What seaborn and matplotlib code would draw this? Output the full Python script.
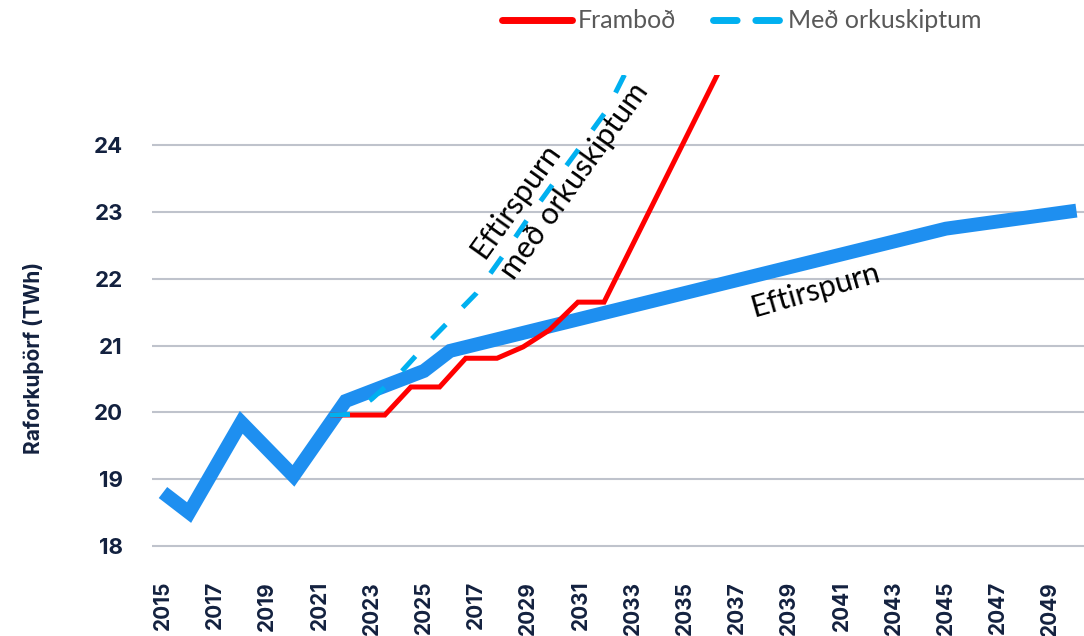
import matplotlib
matplotlib.use("Agg")
import matplotlib.pyplot as plt
from matplotlib.lines import Line2D
import seaborn as sns

# Eftirspurn (demand), TWh
demand_years = [2015, 2016, 2018, 2020, 2022, 2025, 2026, 2045, 2050]
demand_twh = [18.8, 18.5, 19.85, 19.05, 20.17, 20.62, 20.92, 22.75, 23.02]

# Framboð (supply) - drawn as a stepped overlay in the original
supply_years = [2021.4, 2023.5, 2024.5, 2025.6, 2026.6, 2027.8, 2028.8, 2029.8, 2030.9, 2031.9, 2037.0]
supply_twh = [19.96, 19.96, 20.38, 20.38, 20.81, 20.81, 20.98, 21.23, 21.65, 21.65, 25.65]

# Með orkuskiptum (demand with energy transition)
transition_years = [2021.4, 2022.2, 2023, 2024, 2025, 2026, 2027, 2028, 2029, 2030, 2031, 2032, 2033]
transition_twh = [19.96, 19.97, 20.2, 20.55, 20.98, 21.38, 21.78, 22.33, 22.91, 23.45, 23.98, 24.52, 25.3]

tick_years = list(range(2015, 2051, 2))
# the original really says 2017 where 2027 should be
tick_labels = ["2015", "2017", "2019", "2021", "2023", "2025", "2017", "2029", "2031",
               "2033", "2035", "2037", "2039", "2041", "2043", "2045", "2047", "2049"]
y_ticks = [18, 19, 20, 21, 22, 23, 24]

NAVY = "#13213F"
BLUE = "#1E8FF0"
RED = "#FF0000"
CYAN = "#00B0F0"

sns.set_theme(style="white")
plt.rcParams['font.family'] = ['Inter', 'DejaVu Sans']

fig = plt.figure(figsize=(10.84, 6.36), dpi=100)
ax = fig.add_axes([152 / 1084, 1 - 560 / 636, 1 - 152 / 1084, (560 - 75) / 636])

sns.lineplot(x=demand_years, y=demand_twh, ax=ax, color=BLUE, linewidth=10,
             solid_joinstyle="miter", solid_capstyle="butt", zorder=2)
sns.lineplot(x=supply_years, y=supply_twh, ax=ax, color=RED, linewidth=3.6,
             solid_joinstyle="miter", solid_capstyle="butt", zorder=3)
sns.lineplot(x=transition_years, y=transition_twh, ax=ax, color=CYAN, linewidth=3.6,
             linestyle=(0, (4, 4.8)), dash_capstyle="butt", zorder=4)

ax.set_xlim(2014.58, 2050.29)
ax.set_ylim(17.79, 25.05)
ax.set_xticks(tick_years)
ax.set_xticklabels(tick_labels, rotation=90, fontsize=15, fontweight="bold", color=NAVY)
ax.set_yticks(y_ticks)
ax.set_yticklabels([str(v) for v in y_ticks], fontsize=16, fontweight="bold", color=NAVY)
ax.tick_params(axis="x", length=0, pad=15)
ax.tick_params(axis="y", length=0, pad=21)
ax.yaxis.grid(True, color="#BFC3CC", linewidth=1.5)
ax.xaxis.grid(False)
for s in ax.spines.values():
    s.set_visible(False)
ax.set_xlabel("")
ax.set_ylabel("")

fig.text(34 / 1084, 1 - 358 / 636, "Raforkuþörf (TWh)", rotation=90, ha="center", va="center",
         fontsize=15, fontweight="bold", color=NAVY)

# hand-placed annotations
ax.text(2039.98, 21.83, "Eftirspurn", rotation=16, ha="center", va="center",
        fontsize=22, color="black", family=["Lato", "DejaVu Sans"], rotation_mode="anchor")
ax.text(2027.6, 22.2, "Eftirspurn\nmeð orkuskiptum", rotation=54.5, ha="left", va="center",
        multialignment="left", fontsize=22, color="black", family=["Lato", "DejaVu Sans"],
        rotation_mode="anchor", linespacing=1.4)

handles = [
    Line2D([], [], color=RED, linewidth=5, solid_capstyle="round"),
    Line2D([], [], color=CYAN, linewidth=5, linestyle=(0, (3.4, 2.7)), dash_capstyle="round"),
]
leg = fig.legend(handles, ["Framboð", "Með orkuskiptum"], loc="center",
                 bbox_to_anchor=(742 / 1084, 1 - 21 / 636), ncol=2, frameon=False,
                 handlelength=2.8, handletextpad=0.2, columnspacing=1.5,
                 prop={"family": ["Lato", "DejaVu Sans"], "size": 18})
for t in leg.get_texts():
    t.set_color("#595959")

fig.savefig("out.png", dpi=100)
